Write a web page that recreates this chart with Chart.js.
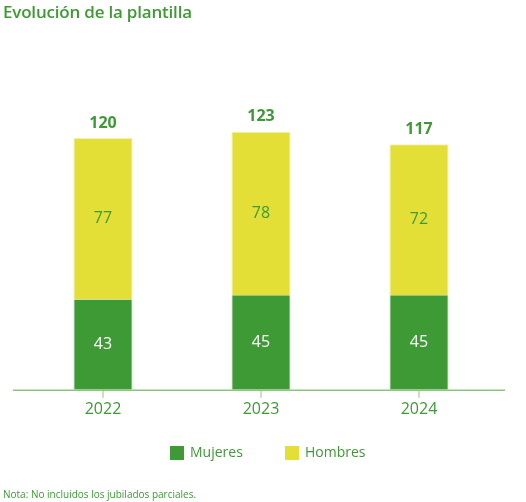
<!DOCTYPE html>
<html>
<head>
<meta charset="utf-8">
<script src="https://cdn.jsdelivr.net/npm/chart.js@4"></script>
<style>
  html, body { margin: 0; padding: 0; background: #ffffff; }
  #wrap { position: relative; width: 526px; height: 502px; }
  #title { position: absolute; left: 3px; top: 0px; font-family: "Open Sans", sans-serif; font-weight: 600; font-size: 17px; color: #3d9a35; letter-spacing: -0.2px; }
  #note { position: absolute; left: 3px; top: 487px; font-family: "Open Sans", sans-serif; font-size: 10px; color: #3d9a35; }
  canvas { position: absolute; left: 0; top: 0; }
</style>
</head>
<body>
<div id="wrap">
  <canvas id="c" width="526" height="502"></canvas>
  <div id="title">Evolución de la plantilla</div>
  <div id="note">Nota: No incluidos los jubilados parciales.</div>
</div>
<script>
const categories = ["2022", "2023", "2024"];
const mujeres = [43, 45, 45];
const hombres = [77, 78, 72];
const seriesNames = ["Mujeres", "Hombres"];

const GREEN = "#3d9a35";
const YELLOW = "#e4df37";
const FONT = '"Open Sans", sans-serif';

const labelsPlugin = {
  id: "labelsPlugin",
  afterDatasetsDraw(chart) {
    const ctx = chart.ctx;
    ctx.save();
    ctx.textAlign = "center";
    ctx.textBaseline = "middle";
    const m0 = chart.getDatasetMeta(0), m1 = chart.getDatasetMeta(1);
    categories.forEach((c, i) => {
      const b0 = m0.data[i], b1 = m1.data[i];
      ctx.font = "16px " + FONT;
      ctx.fillStyle = "#ffffff";
      ctx.fillText(String(mujeres[i]), b0.x, (b0.y + b0.base) / 2);
      ctx.fillStyle = GREEN;
      ctx.fillText(String(hombres[i]), b1.x, (b1.y + b1.base) / 2);
      ctx.font = "bold 16px " + FONT;
      ctx.fillText(String(mujeres[i] + hombres[i]), b1.x, b1.y - 15);
    });
    ctx.restore();
  },
  afterDraw(chart) {
    const ctx = chart.ctx;
    const a = chart.chartArea;
    const x = chart.scales.x;
    ctx.save();
    ctx.strokeStyle = "#c9e2bb";
    ctx.lineWidth = 2;
    categories.forEach((c, i) => {
      const px = x.getPixelForValue(i);
      ctx.beginPath();
      ctx.moveTo(px, a.bottom + 1);
      ctx.lineTo(px, a.bottom + 8);
      ctx.stroke();
    });
    ctx.strokeStyle = "#8cc47e";
    ctx.lineWidth = 1.5;
    ctx.beginPath();
    ctx.moveTo(a.left - 11, a.bottom + 0.5);
    ctx.lineTo(a.right + 7, a.bottom + 0.5);
    ctx.stroke();

    // legend
    const legendY = 453;
    const starts = [170, 285];
    ctx.font = "14px " + FONT;
    ctx.textBaseline = "middle";
    ctx.textAlign = "left";
    chart.data.datasets.forEach((d, i) => {
      ctx.fillStyle = d.backgroundColor;
      ctx.fillRect(starts[i], legendY - 7, 14, 14);
      ctx.fillStyle = GREEN;
      ctx.fillText(d.label, starts[i] + 20, legendY);
    });
    ctx.restore();
  }
};

new Chart(document.getElementById("c"), {
  type: "bar",
  data: {
    labels: categories,
    datasets: [
      { label: seriesNames[0], data: mujeres, backgroundColor: GREEN, borderColor: "#cfe6c5", borderWidth: {left:1,right:1,top:0,bottom:0}, borderSkipped: false },
      { label: seriesNames[1], data: hombres, backgroundColor: YELLOW, borderColor: "#f4f1b0", borderWidth: {left:1,right:1,top:1,bottom:0}, borderSkipped: false }
    ]
  },
  options: {
    responsive: false,
    animation: false,
    devicePixelRatio: 1,
    layout: { padding: { left: 24, right: 28, top: 96, bottom: 73 } },
    scales: {
      x: {
        stacked: true,
        categoryPercentage: 1,
        grid: { display: false, drawTicks: false },
        border: { display: false },
        ticks: { color: GREEN, font: { family: FONT, size: 16 }, padding: 10 }
      },
      y: {
        stacked: true,
        min: 0, max: 140,
        display: false
      }
    },
    datasets: { bar: { categoryPercentage: 1, barPercentage: 0.375 } },
    plugins: {
      legend: { display: false },
      tooltip: { enabled: false }
    }
  },
  plugins: [labelsPlugin]
});
</script>
</body>
</html>
